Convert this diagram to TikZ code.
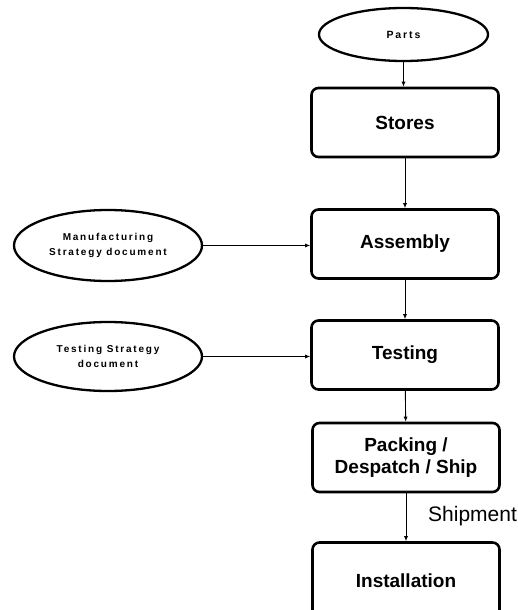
\documentclass[tikz,border=0pt]{standalone}
\usepackage{fontspec}
\setmainfont{Liberation Sans}
\newfontfamily\spacedfont[LetterSpace=18]{Liberation Sans}
\usetikzlibrary{shapes.geometric,arrows.meta}

\tikzset{
  stepbox/.style={draw, line width=2.6pt, rounded corners=7pt,
    minimum width=187pt, minimum height=69pt, align=center,
    font=\fontsize{19}{22}\selectfont\bfseries},
  source/.style={draw, ellipse, line width=2.3pt, inner sep=0pt,
    align=center, font=\spacedfont\fontsize{10}{15}\selectfont\bfseries},
  flow/.style={line width=0.9pt, -{Latex[length=5pt,width=4pt]}}
}

\begin{document}
\begin{tikzpicture}[x=1pt,y=1pt]
  \clip (0,0) rectangle (518,-610);

  % input parts
  \node[source, minimum width=169pt, minimum height=53pt,
        font=\spacedfont\fontsize{10.5}{13}\selectfont\bfseries]
    (parts) at (403.5,-34.5) {Parts};

  % process chain
  \node[stepbox] (stores)   at (405,-122.5) {Stores};
  \node[stepbox] (assembly) at (405,-244)   {Assembly};
  \node[stepbox] (testing)  at (405,-355)   {Testing};
  \node[stepbox] (packing)  at (406,-457.5) {Packing /\\Despatch / Ship};
  \node[stepbox, minimum height=76pt] (install) at (406,-580.5) {Installation};

  % strategy documents
  \node[source, minimum width=188pt, minimum height=71pt]
    (manuf) at (108,-245.5) {Manufacturing\\Strategy document};
  \node[source, minimum width=188pt, minimum height=69pt]
    (teststrat) at (108,-356.5) {Testing Strategy\\document};

  % connectors
  \draw[flow] (parts.south) -- (parts.south |- stores.north);
  \draw[flow] (stores) -- (assembly);
  \draw[flow] (assembly) -- (testing);
  \draw[flow] (testing) -- (packing);
  \draw[flow] (packing) -- (install);
  \draw[flow] (manuf.east) -- (manuf.east -| assembly.west);
  \draw[flow] (teststrat.east) -- (teststrat.east -| testing.west);

  % shipment label
  \node[anchor=base west, inner sep=0pt, font=\fontsize{21}{25}\selectfont]
    (shiplabel) at (428,-521) {Shipment};
\end{tikzpicture}
\end{document}
